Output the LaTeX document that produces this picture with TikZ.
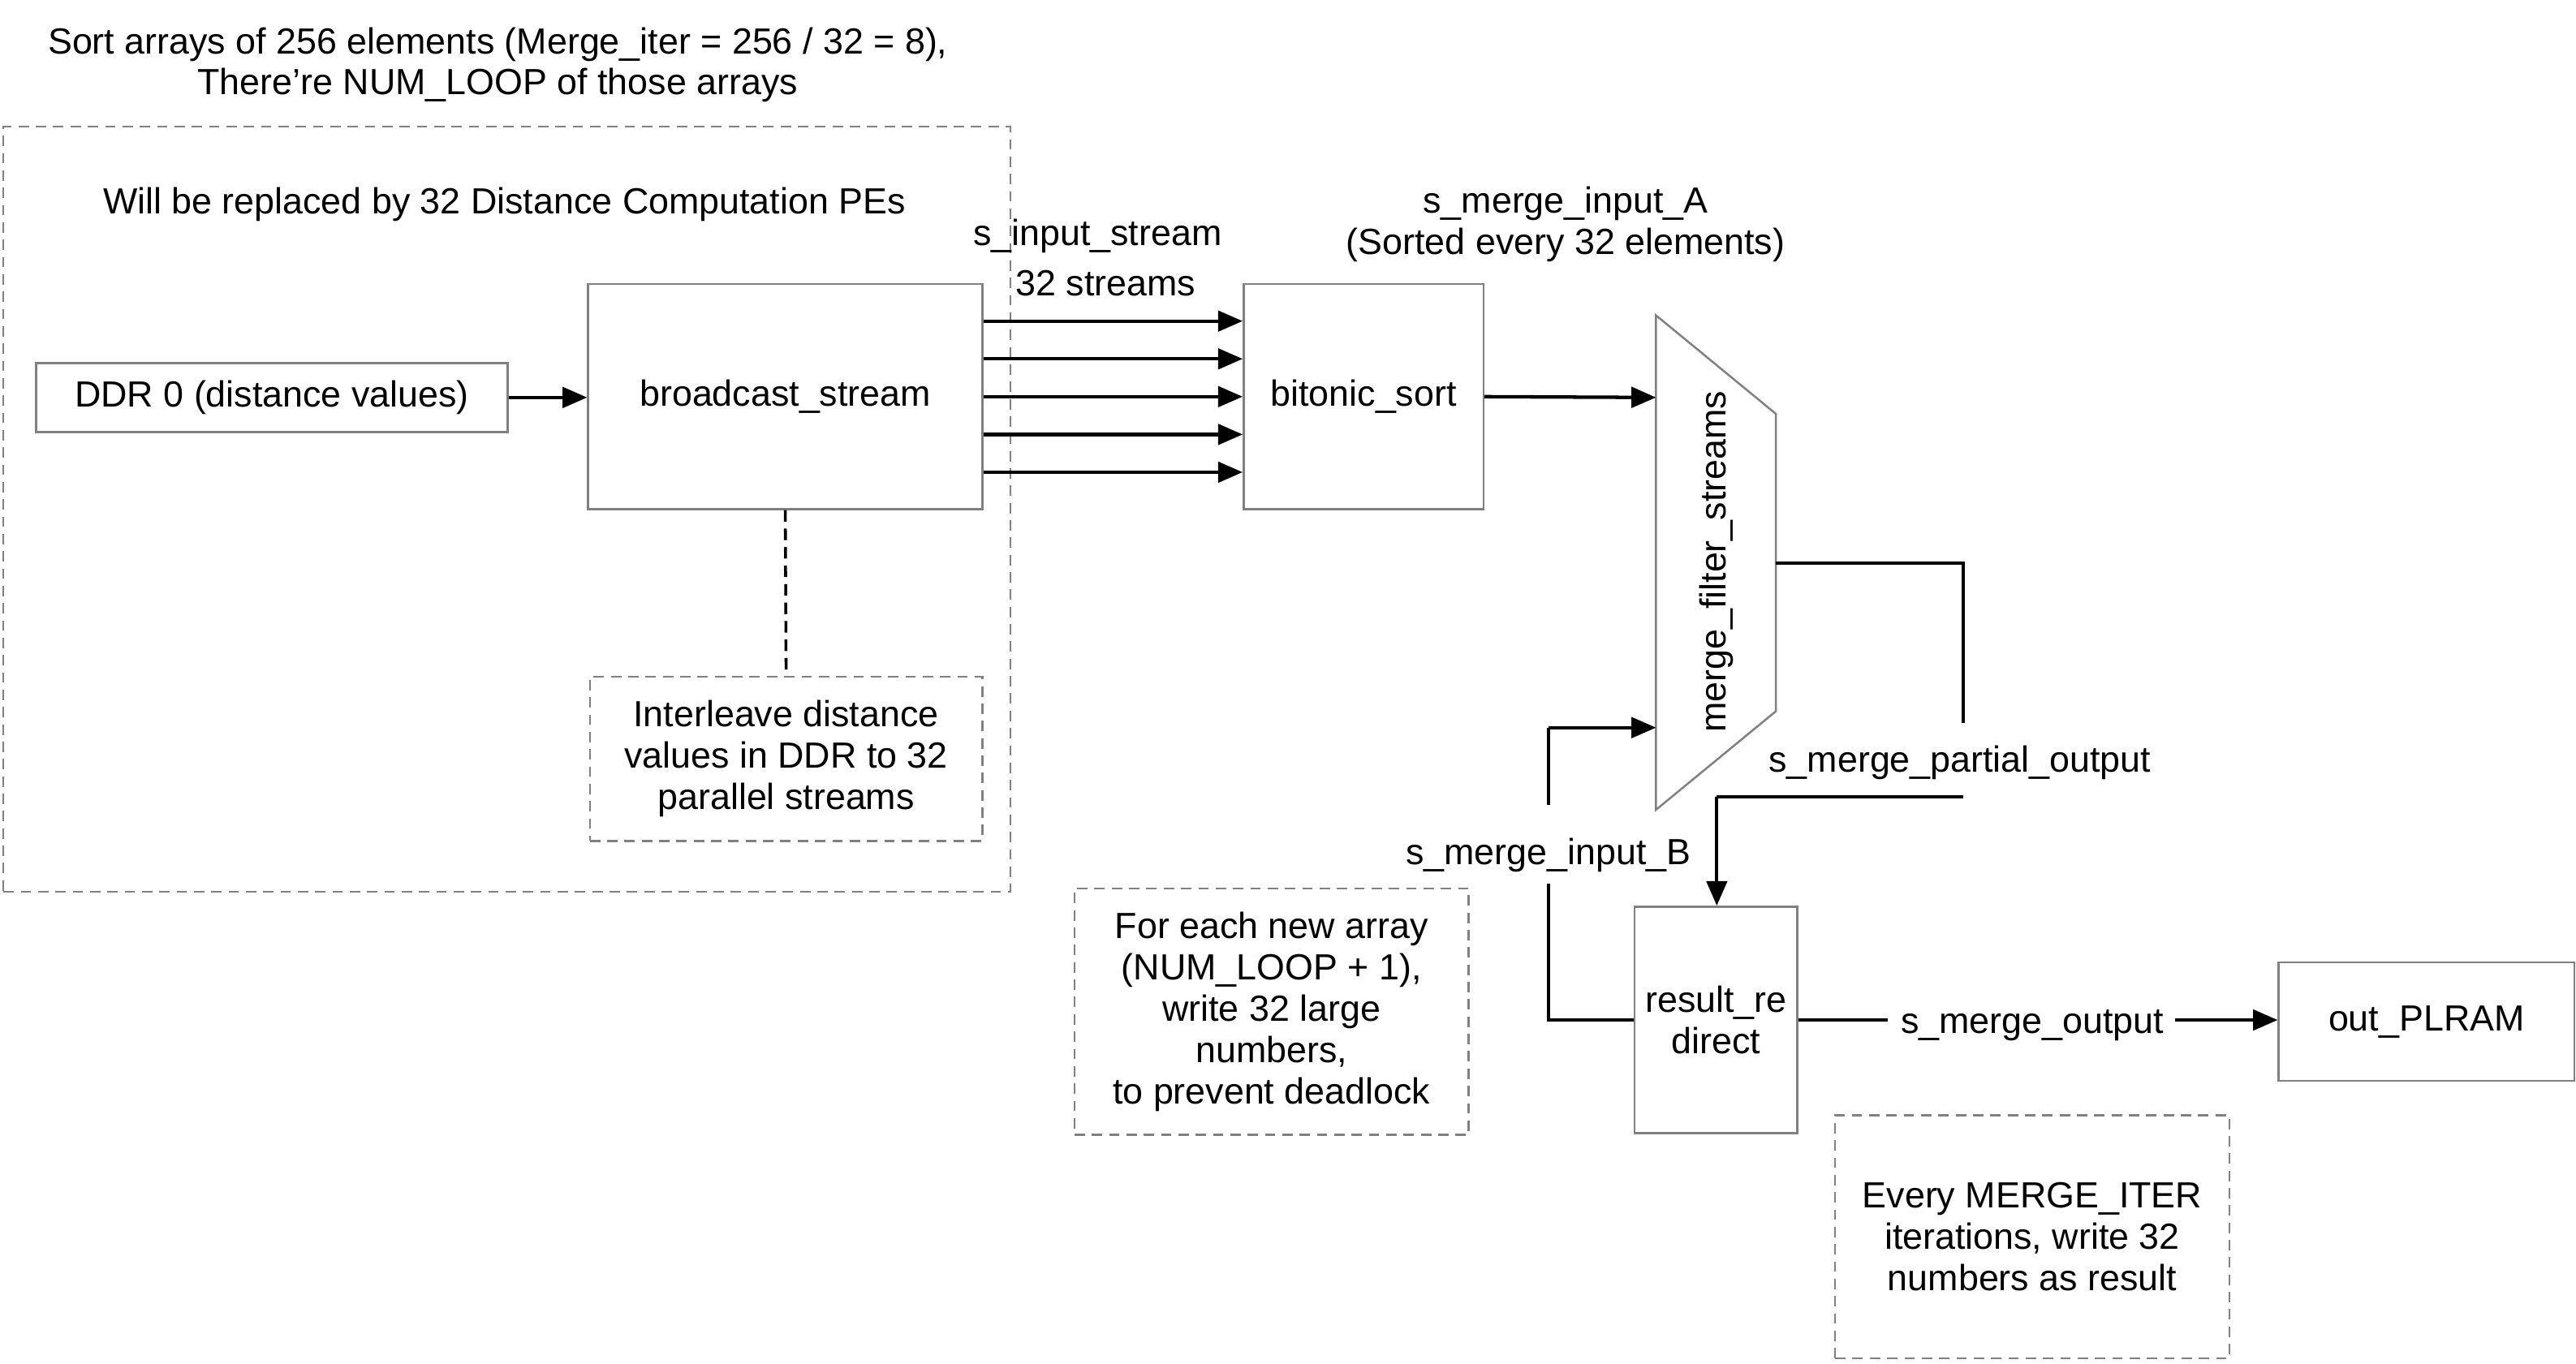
\documentclass[tikz,border=0pt]{standalone}
\usepackage{fontspec}
\setmainfont{Liberation Sans}
\usetikzlibrary{arrows.meta}
\definecolor{boxgray}{RGB}{128,128,128}
\begin{document}
\begin{tikzpicture}[x=0.02cm,y=-0.02cm,
  font=\fontsize{12.6}{14.3}\selectfont,
  box/.style={draw=boxgray, line width=0.7pt, inner sep=0pt, align=center},
  note/.style={draw=boxgray, line width=0.7pt, dash pattern=on 3.6pt off 2.4pt, inner sep=0pt, align=center},
  lbl/.style={inner sep=0pt, align=center, yshift=-0.05cm},
  wire/.style={line width=1.2pt},
  arr/.style={line width=1.2pt, -{Triangle[length=0.3cm,width=0.25cm]}}
]
\useasboundingbox (0,0) rectangle (1568,830);

% title
\node[lbl] (title) at (303,37) {Sort arrays of 256 elements (Merge\_iter = 256 / 32 = 8),\\There’re NUM\_LOOP of those arrays};

% outer dashed region
\node[note, minimum width=12.26cm, minimum height=9.32cm] (region) at (308.5,310) {};
\node[lbl] (regionlbl) at (307,122) {Will be replaced by 32 Distance Computation PEs};

% boxes
\node[box, minimum width=5.74cm, minimum height=0.84cm] (ddr) at (165.5,242) {DDR 0 (distance values)};
\node[box, minimum width=4.8cm, minimum height=2.74cm] (bc) at (478,241.5) {broadcast\_stream};
\node[note, minimum width=4.78cm, minimum height=2.0cm] (inter) at (478.5,462) {Interleave distance\\values in DDR to 32\\parallel streams};
\node[box, minimum width=2.92cm, minimum height=2.74cm] (bs) at (830,241.5) {bitonic\_sort};
\node[box, minimum width=1.98cm, minimum height=2.76cm] (rr) at (1044.5,621) {result\_re\\direct};
\node[box, minimum width=3.6cm, minimum height=1.44cm] (out) at (1477,622) {out\_PLRAM};
\node[note, minimum width=4.8cm, minimum height=3.0cm] (fenote) at (774,616) {For each new array\\(NUM\_LOOP + 1),\\write 32 large\\numbers,\\to prevent deadlock};
\node[note, minimum width=4.8cm, minimum height=2.96cm] (evnote) at (1237,753) {Every MERGE\_ITER\\iterations, write 32\\numbers as result};

% trapezoid merge_filter_streams
\coordinate (mTL) at (1008,192);
\coordinate (mTR) at (1081,252);
\coordinate (mBR) at (1081,433);
\coordinate (mBL) at (1008,493);
\draw[draw=boxgray, line width=0.7pt] (mTL) -- (mTR) -- (mBR) -- (mBL) -- cycle;
\node[inner sep=0pt, rotate=90] (mf) at (1045,342) {merge\_filter\_streams};
\coordinate (mInA) at (1008,242);
\coordinate (mInB) at (1008,443);
\coordinate (mOut) at (1081,343);

% labels
\node[lbl] (sin1) at (668,141) {s\_input\_stream};
\node[lbl] (sin2) at (673,170) {32 streams};
\node[lbl] (sA) at (953,134) {s\_merge\_input\_A\\(Sorted every 32 elements)};
\node[lbl] (sPart) at (1193,462) {s\_merge\_partial\_output};
\node[lbl] (sB) at (942.5,518) {s\_merge\_input\_B};
\node[lbl] (sOut) at (1237,622) {s\_merge\_output};

% connectors
\draw[arr] (ddr.east) -- (ddr.east -| bc.west);
\draw[black, line width=1pt, dash pattern=on 4pt off 2.4pt] (bc.south) -- (inter.north);
\foreach \dy in {-46,-23,0,23,46}{
  \draw[arr] ([yshift=-\dy*0.02cm]bc.east) -- ([yshift=-\dy*0.02cm]bs.west);
}
\draw[arr] (bs.east) -- (mInA);

% partial output loop
\coordinate (p1) at (1195,343);
\coordinate (p2) at (1195,440);
\coordinate (p3) at (1195,485);
\coordinate (p4) at (1045,485);
\draw[wire] (mOut) -- (p1) -- (p2);
\draw[wire] (p3) -- (p4);
\draw[arr] (p4) -- (p4 |- rr.north);

% input B loop
\coordinate (b1) at (942.5,621);
\coordinate (b2) at (942.5,538);
\coordinate (b3) at (942.5,490);
\coordinate (b4) at (942.5,443);
\draw[wire] (rr.west) -- (b1) -- (b2);
\draw[wire] (b3) -- (b4);
\draw[arr] (b4) -- (mInB);

% merge output
\coordinate (o1) at (1149,621);
\coordinate (o2) at (1324,621);
\draw[wire] (rr.east) -- (o1);
\draw[arr] (o2) -- (o2 -| out.west);
\end{tikzpicture}
\end{document}
